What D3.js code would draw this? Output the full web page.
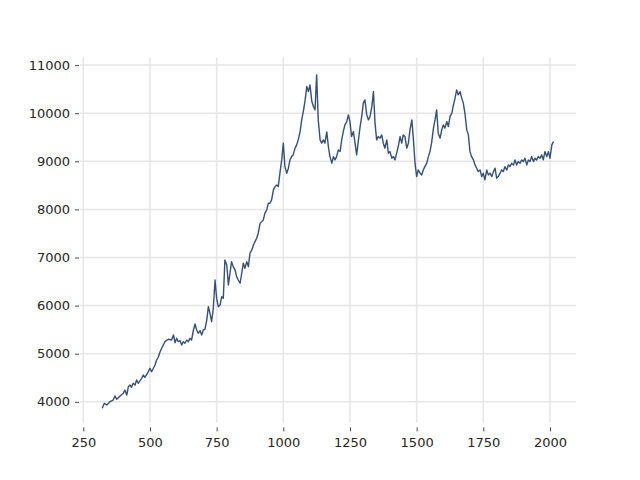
<!DOCTYPE html>
<html>
<head>
<meta charset="utf-8">
<script src="https://cdn.jsdelivr.net/npm/d3@7"></script>
<style>
html,body{margin:0;padding:0;background:#fff;}
svg{display:block;}
text{font-family:"DejaVu Sans",sans-serif;font-size:13px;fill:#262626;}
</style>
</head>
<body>
<svg id="chart" width="640" height="480"></svg>
<script>
const xValues = [321,329,338,350,362,369,375,388,400,406,413,419,425,431,437,444,450,456,469,475,481,494,500,506,519,525,531,538,544,556,569,581,588,594,600,606,613,619,625,631,638,644,650,656,663,669,675,681,688,694,700,706,713,719,725,731,737,744,750,756,763,769,775,781,788,794,800,806,812,819,825,831,838,844,850,856,863,869,875,882,888,894,900,906,913,919,925,931,938,944,950,956,963,969,975,981,988,994,1000,1006,1013,1019,1025,1031,1037,1044,1050,1056,1063,1069,1075,1081,1088,1094,1100,1107,1113,1119,1125,1131,1138,1144,1150,1156,1163,1169,1175,1182,1188,1194,1200,1206,1213,1219,1225,1231,1238,1244,1250,1256,1263,1269,1275,1281,1288,1294,1300,1306,1313,1319,1325,1332,1338,1344,1350,1356,1363,1369,1375,1381,1388,1394,1400,1407,1413,1419,1425,1431,1438,1444,1450,1456,1463,1469,1475,1482,1488,1494,1500,1506,1513,1519,1525,1531,1538,1544,1550,1556,1563,1569,1575,1581,1588,1594,1600,1606,1613,1619,1625,1632,1638,1644,1650,1656,1663,1669,1675,1681,1688,1694,1700,1706,1713,1719,1725,1731,1738,1744,1750,1756,1763,1769,1775,1782,1788,1794,1800,1806,1813,1819,1825,1831,1838,1844,1850,1856,1863,1869,1875,1881,1888,1894,1900,1906,1913,1919,1925,1931,1938,1944,1950,1956,1963,1969,1975,1981,1988,1994,2000,2007,2013];
const yValues = [3865,3969,3933,4002,4037,4121,4052,4121,4177,4245,4141,4314,4349,4302,4385,4349,4453,4385,4489,4557,4510,4626,4697,4626,4765,4869,4926,5042,5113,5250,5300,5285,5389,5229,5321,5250,5271,5181,5250,5217,5285,5250,5321,5285,5493,5618,5493,5425,5479,5389,5493,5508,5701,5978,5841,5666,5909,6533,6150,5978,6013,6186,6153,6949,6845,6429,6673,6914,6810,6741,6602,6533,6465,6673,6881,6777,6914,6810,7089,7157,7261,7330,7401,7505,7713,7746,7781,7921,7989,8129,8129,8197,8405,8474,8509,8474,8786,9029,9377,8890,8753,8857,9029,9098,9133,9273,9341,9445,9618,9861,10034,10242,10554,10450,10589,10242,10138,10069,10797,9861,9445,9377,9445,9377,9612,9306,9098,8961,9098,9029,9098,9237,9202,9445,9618,9757,9826,9965,9826,9514,9618,9377,9133,9410,9722,9930,10209,10277,9965,9861,9930,10138,10450,9793,9445,9514,9481,9549,9377,9273,9445,9169,9202,9065,9098,9029,9169,9306,9514,9377,9549,9514,9273,9377,9653,9861,9445,8961,8682,8821,8753,8717,8821,8890,8961,9098,9202,9377,9689,9861,10069,9585,9481,9653,9757,9689,9826,9722,9930,10001,10173,10313,10485,10381,10450,10313,10209,10001,9653,9549,9202,9098,9029,8925,8857,8786,8821,8682,8753,8613,8821,8717,8753,8682,8786,8857,8649,8682,8753,8821,8786,8890,8821,8925,8890,8961,8925,9029,8925,8994,8961,9029,8994,9065,8925,9029,8994,9098,8994,9065,9029,9098,9065,9133,9029,9202,9098,9202,9065,9341,9410];
const xTicks = [250,500,750,1000,1250,1500,1750,2000];
const yTicks = [4000,5000,6000,7000,8000,9000,10000,11000];

const svg = d3.select("#chart");
const plotLeft = 80, plotRight = 576, plotTop = 57.6, plotBottom = 422.4;
const x = d3.scaleLinear().domain([237.6, 2097.6]).range([plotLeft, plotRight]);
const y = d3.scaleLinear().domain([3572, 11156]).range([plotBottom, plotTop]);

const grid = svg.append("g");
grid.selectAll("line.v").data(xTicks).join("line")
  .attr("x1", d => x(d)).attr("x2", d => x(d))
  .attr("y1", plotTop).attr("y2", plotBottom)
  .attr("stroke", "#e6e6e6").attr("stroke-width", 1.5);
grid.selectAll("line.h").data(yTicks).join("line")
  .attr("x1", plotLeft).attr("x2", plotRight)
  .attr("y1", d => y(d)).attr("y2", d => y(d))
  .attr("stroke", "#e6e6e6").attr("stroke-width", 1.5);

const xAxis = d3.axisBottom(x).tickValues(xTicks).tickSize(4).tickPadding(6).tickFormat(d3.format("d"));
const gx = svg.append("g").attr("transform", `translate(0,${plotBottom + 5})`).call(xAxis);
gx.select(".domain").remove();
gx.selectAll(".tick line").attr("stroke", "#333").attr("stroke-width", 0.9);
gx.selectAll(".tick text").attr("fill", "#1a1a1a").style("font-size", "13px").style("font-family", "DejaVu Sans");

const yAxis = d3.axisLeft(y).tickValues(yTicks).tickSize(4).tickPadding(5).tickFormat(d3.format("d"));
const gy = svg.append("g").attr("transform", `translate(${plotLeft - 1},0)`).call(yAxis);
gy.select(".domain").remove();
gy.selectAll(".tick line").attr("stroke", "#333").attr("stroke-width", 0.9);
gy.selectAll(".tick text").attr("fill", "#1a1a1a").style("font-size", "13px").style("font-family", "DejaVu Sans");

const pts = xValues.map((v, i) => [v, yValues[i]]);
const line = d3.line().x(d => x(d[0])).y(d => y(d[1]));
svg.append("path").datum(pts)
  .attr("d", line)
  .attr("fill", "none")
  .attr("stroke", "#34507a")
  .attr("stroke-width", 1.4)
  .attr("stroke-linejoin", "round");
</script>
</body>
</html>
